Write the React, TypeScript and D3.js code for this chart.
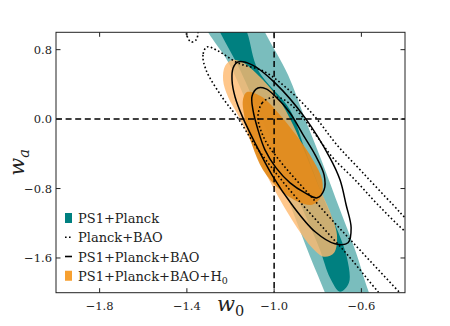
import React from 'react';
import * as d3 from 'd3';

// axis ticks
const xTicks = [-1.8, -1.4, -1.0, -0.6];
const xTickLabels = ['−1.8', '−1.4', '−1.0', '−0.6'];
const yTicks = [0.8, 0.0, -0.8, -1.6];
const yTickLabels = ['0.8', '0.0', '−0.8', '−1.6'];

// legend entries (last one gets a subscript 0)
const legendLabels = ['PS1+Planck', 'Planck+BAO', 'PS1+Planck+BAO', 'PS1+Planck+BAO+H'];

// contours, [w0, wa] points
// PS1+Planck 95% / 68%
const ps1Planck95 = [
  [-1.386, 1.372], [-1.303, 1.0], [-1.211, 0.658], [-1.111, 0.106], [-1.01, -0.47],
  [-0.918, -1.045], [-0.835, -1.586], [-0.767, -2.0], [-0.721, -2.311], [-0.629, -2.483],
  [-0.514, -2.311], [-0.565, -2.0], [-0.629, -1.505], [-0.698, -1.045], [-0.78, -0.493],
  [-0.858, 0.002], [-0.936, 0.509], [-1.042, 1.0], [-1.111, 1.372], [-1.271, 1.544],
];
const ps1Planck68 = [
  [-1.317, 1.372], [-1.248, 1.0], [-1.156, 0.566], [-1.055, -0.009], [-0.95, -0.585],
  [-0.858, -1.102], [-0.79, -1.505], [-0.744, -1.827], [-0.698, -1.988], [-0.657, -1.885],
  [-0.666, -1.597], [-0.707, -1.298], [-0.78, -0.872], [-0.858, -0.354], [-0.927, 0.106],
  [-1.074, 0.566], [-1.124, 1.0], [-1.188, 1.372], [-1.257, 1.544],
];
// PS1+Planck+BAO+H0 95% / 68%
const h0Outer = [
  [-1.193, 0.681], [-1.225, 0.612], [-1.234, 0.451], [-1.211, 0.255], [-1.166, 0.048],
  [-1.111, -0.239], [-1.042, -0.608], [-0.973, -0.93], [-0.895, -1.252], [-0.826, -1.482],
  [-0.771, -1.586], [-0.725, -1.54], [-0.712, -1.333], [-0.744, -1.068], [-0.799, -0.757],
  [-0.854, -0.412], [-0.913, -0.067], [-0.982, 0.244], [-1.074, 0.509], [-1.147, 0.658],
];
const h0Inner = [
  [-1.124, 0.313], [-1.143, 0.221], [-1.133, -0.009], [-1.101, -0.297], [-1.051, -0.585],
  [-0.973, -0.815], [-0.89, -0.953], [-0.826, -0.987], [-0.785, -0.895], [-0.78, -0.7],
  [-0.822, -0.47], [-0.89, -0.216], [-0.973, 0.048], [-1.055, 0.255],
];
// PS1+Planck+BAO 95% / 68%
const baoPs1Outer = [
  [-1.166, 0.658], [-1.188, 0.589], [-1.193, 0.451], [-1.179, 0.255], [-1.143, 0.014],
  [-1.083, -0.297], [-1.01, -0.642], [-0.918, -0.987], [-0.812, -1.298], [-0.721, -1.436],
  [-0.661, -1.425], [-0.647, -1.252], [-0.67, -0.987], [-0.698, -0.7], [-0.744, -0.447],
  [-0.858, 0.014], [-0.996, 0.417], [-1.101, 0.624],
];
const baoPs1Inner = [
  [-1.074, 0.359], [-1.101, 0.267], [-1.097, 0.106], [-1.074, -0.124], [-1.042, -0.354],
  [-0.991, -0.562], [-0.927, -0.734], [-0.858, -0.849], [-0.803, -0.907], [-0.771, -0.815],
  [-0.771, -0.642], [-0.812, -0.412], [-0.867, -0.182], [-0.927, 0.071], [-0.996, 0.267],
  [-1.037, 0.348],
];
// Planck+BAO 95% (main band + island off the top) / 68%
const planckBao95 = [
  [-1.308, 0.831], [-1.326, 0.739], [-1.312, 0.566], [-1.239, 0.255], [-1.17, 0.025],
  [-1.088, -0.297], [-0.996, -0.608], [-0.89, -0.93], [-0.767, -1.275], [-0.652, -1.597],
  [-0.551, -1.908], [-0.492, -2.081], [-0.377, -2.426], [-0.216, -2.081], [-0.216, -1.39],
  [-0.377, -1.183], [-0.455, -0.987], [-0.597, -0.608], [-0.712, -0.297], [-0.812, 0.025],
  [-0.918, 0.302], [-1.042, 0.543], [-1.166, 0.647], [-1.257, 0.785],
];
const planckBao95Island = [
  [-1.404, 1.084], [-1.399, 0.957], [-1.381, 0.888], [-1.358, 0.911], [-1.349, 1.026],
  [-1.372, 1.199],
];
const planckBao68 = [
  [-1.019, 0.244], [-1.055, 0.186], [-1.074, 0.014], [-1.042, -0.239], [-0.959, -0.527],
  [-0.858, -0.815], [-0.744, -1.137], [-0.629, -1.448], [-0.514, -1.758], [-0.4, -2.058],
  [-0.285, -2.311], [-0.193, -1.678], [-0.377, -1.344], [-0.524, -0.987], [-0.629, -0.7],
  [-0.73, -0.447], [-0.799, -0.216], [-0.867, 0.014], [-0.927, 0.175], [-0.973, 0.244],
];

const width = 450;
const height = 326;
const margin = { top: 32.3, right: 45, bottom: 33.3, left: 56 };
const serif = '"DejaVu Serif", serif';

const App = () => {
  const x = d3.scaleLinear().domain([-2.0, -0.4]).range([margin.left, width - margin.right]);
  const y = d3.scaleLinear().domain([-2.0, 1.0]).range([height - margin.bottom, margin.top]);

  const contour = d3.line<number[]>()
    .x(d => x(d[0]))
    .y(d => y(d[1]))
    .curve(d3.curveCatmullRomClosed.alpha(0.5));

  const x0 = margin.left, x1 = width - margin.right;
  const y0 = margin.top, y1 = height - margin.bottom;
  const tickLen = 4.5;
  const legendRow = (i: number) => 218 + i * 19.25;

  return (
    <svg width={width} height={height} style={{ position: 'fixed', left: 0, top: 0 }}
      fontFamily={serif}>
      <defs>
        <clipPath id="plot">
          <rect x={x0} y={y0} width={x1 - x0} height={y1 - y0} />
        </clipPath>
      </defs>
      <rect width={width} height={height} fill="white" />

      <g clipPath="url(#plot)">
        <path d={contour(ps1Planck95)!} fill="#008080" fillOpacity={0.52} />
        <path d={contour(ps1Planck68)!} fill="#008080" />
        <path d={contour(h0Outer)!} fill="#ffb96e" fillOpacity={0.8} />
        <path d={contour(h0Inner)!} fill="#e38a1a" fillOpacity={0.92} />

        {[planckBao95, planckBao95Island, planckBao68].map((c, i) => (
          <path key={'d' + i} d={contour(c)!} fill="none" stroke="black"
            strokeWidth={1.6} strokeDasharray="1.6 2.4" />
        ))}
        {[baoPs1Outer, baoPs1Inner].map((c, i) => (
          <path key={'s' + i} d={contour(c)!} fill="none" stroke="black" strokeWidth={1.5} />
        ))}

        <line x1={x(-1)} x2={x(-1)} y1={y0} y2={y1} stroke="black" strokeWidth={1.5}
          strokeDasharray="6 3.6" />
        <line x1={x0} x2={x1} y1={y(0)} y2={y(0)} stroke="black" strokeWidth={1.5}
          strokeDasharray="6 3.6" />
      </g>

      {/* frame and inward ticks on all sides */}
      <rect x={x0} y={y0} width={x1 - x0} height={y1 - y0} fill="none" stroke="#222" strokeWidth={1} />
      {xTicks.map((t, i) => (
        <g key={'xt' + i}>
          <line x1={x(t)} x2={x(t)} y1={y1} y2={y1 - tickLen} stroke="#222" />
          <line x1={x(t)} x2={x(t)} y1={y0} y2={y0 + tickLen} stroke="#222" />
          <text x={x(t)} y={y1 + 17} textAnchor="middle" fontSize={11.5} fill="#222">
            {xTickLabels[i]}
          </text>
        </g>
      ))}
      {yTicks.map((t, i) => (
        <g key={'yt' + i}>
          <line x1={x0} x2={x0 + tickLen} y1={y(t)} y2={y(t)} stroke="#222" />
          <line x1={x1} x2={x1 - tickLen} y1={y(t)} y2={y(t)} stroke="#222" />
          <text x={x0 - 4} y={y(t) + 4} textAnchor="end" fontSize={11.5} fill="#222">
            {yTickLabels[i]}
          </text>
        </g>
      ))}

      {/* axis labels */}
      <text x={(x0 + x1) / 2} y={311} textAnchor="middle" fontSize={21} fontStyle="italic" fill="#222">
        w<tspan fontSize={14.5} dy={5} fontStyle="normal">0</tspan>
      </text>
      <text transform={`translate(24,${(y0 + y1) / 2}) rotate(-90)`} textAnchor="middle"
        fontSize={21} fontStyle="italic" fill="#222">
        w<tspan fontSize={14.5} dy={5}>a</tspan>
      </text>

      {/* legend */}
      <g fontSize={13} fill="#222">
        <rect x={65} y={legendRow(0) - 5} width={7} height={10} fill="#008080" />
        <line x1={65} x2={72} y1={legendRow(1)} y2={legendRow(1)} stroke="black"
          strokeWidth={1.6} strokeDasharray="1.6 2.4" />
        <line x1={65} x2={72} y1={legendRow(2)} y2={legendRow(2)} stroke="black" strokeWidth={1.6} />
        <rect x={65} y={legendRow(3) - 5} width={7} height={10} fill="#f7a030" />
        {legendLabels.map((l, i) => (
          <text key={'lg' + i} x={78} y={legendRow(i) + 5}>
            {l}
            {i === 3 && <tspan fontSize={9.5} dy={3}>0</tspan>}
          </text>
        ))}
      </g>
    </svg>
  );
};

export default App;
